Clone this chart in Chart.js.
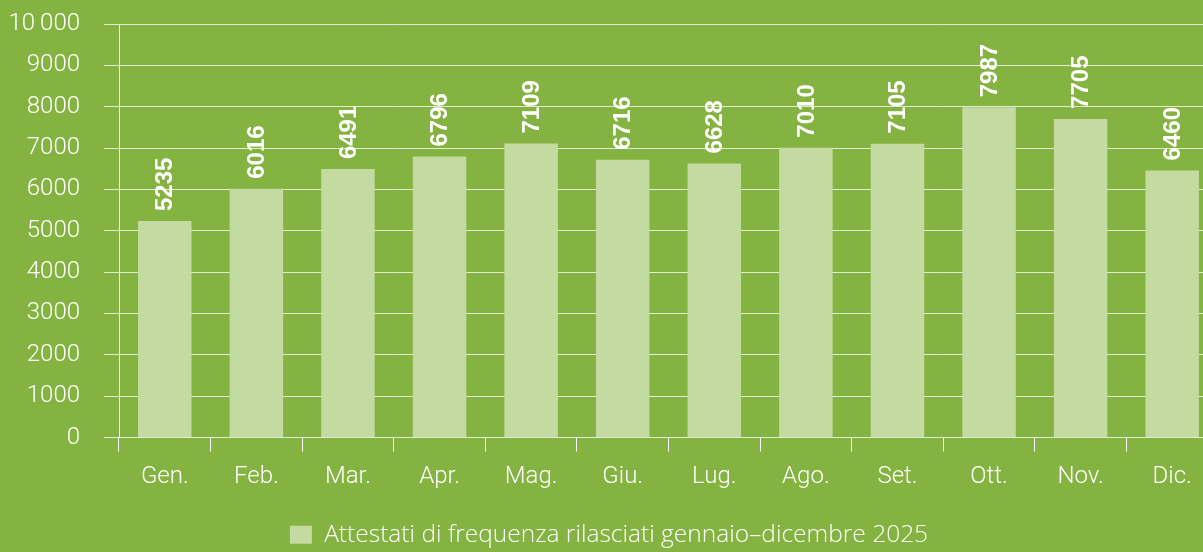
<!DOCTYPE html>
<html>
<head>
<meta charset="utf-8">
<script src="https://cdn.jsdelivr.net/npm/chart.js@4.4.1/dist/chart.umd.min.js"></script>
<style>
  html, body { margin: 0; padding: 0; background: #85b341; overflow: hidden; }
  #wrap { width: 1220px; height: 552px; }
</style>
</head>
<body>
<div id="wrap"><canvas id="chart" width="1220" height="552"></canvas></div>
<script>
// dati del grafico
const months = ["Gen.", "Feb.", "Mar.", "Apr.", "Mag.", "Giu.", "Lug.", "Ago.", "Set.", "Ott.", "Nov.", "Dic."];
const attestati = [5235, 6016, 6491, 6796, 7109, 6716, 6628, 7010, 7105, 7987, 7705, 6460];
const yTicks = [0, 1000, 2000, 3000, 4000, 5000, 6000, 7000, 8000, 9000, 10000];
const seriesLabel = "Attestati di frequenza rilasciati gennaio\u2013dicembre 2025";

const barColor = "#c3daa0";
const lineColor = "rgba(255, 255, 255, 0.75)";
const lightFont = "Roboto";

// etichette verticali sopra le barre
const valueLabels = {
  id: "valueLabels",
  afterDatasetsDraw(chart) {
    const ctx = chart.ctx;
    const meta = chart.getDatasetMeta(0);
    ctx.save();
    ctx.fillStyle = "#ffffff";
    ctx.font = "bold 24px 'Liberation Sans', Arial, sans-serif";
    ctx.textAlign = "left";
    ctx.textBaseline = "middle";
    meta.data.forEach(function (bar, i) {
      ctx.save();
      ctx.translate(bar.x + 1, bar.y - 10);
      ctx.rotate(-Math.PI / 2);
      ctx.fillText(String(attestati[i]), 0, 0);
      ctx.restore();
    });
    ctx.restore();
  }
};

new Chart(document.getElementById("chart"), {
  type: "bar",
  data: {
    labels: months,
    datasets: [{
      label: seriesLabel,
      data: attestati,
      backgroundColor: barColor,
      borderWidth: 0,
      categoryPercentage: 1,
      barPercentage: 0.584
    }]
  },
  options: {
    responsive: false,
    animation: false,
    layout: { padding: { top: 24, right: 2, left: 0, bottom: -5 } },
    scales: {
      x: {
        grid: {
          offset: true,
          drawOnChartArea: false,
          color: "#ffffff",
          tickLength: 14
        },
        border: { display: false },
        ticks: {
          color: "#ffffff",
          padding: 11,
          font: { family: lightFont, size: 24, weight: "300" }
        },
        afterFit(scale) {
          scale.height = 81;
          scale.paddingLeft = 0;
          scale.paddingRight = 0;
        }
      },
      y: {
        min: 0,
        max: 10000,
        afterBuildTicks(scale) {
          scale.ticks = yTicks.map(function (v) { return { value: v }; });
        },
        grid: {
          color: lineColor,
          tickLength: 15
        },
        border: { display: true, color: "#ffffff", width: 1 },
        ticks: {
          color: "#ffffff",
          padding: 24,
          font: { family: lightFont, size: 24, weight: "300" },
          callback: function (v) { return v === 10000 ? "10\u2009000" : String(v); }
        },
        afterFit(scale) {
          scale.width = 119;
          scale.paddingTop = 0;
          scale.paddingBottom = 0;
        }
      }
    },
    plugins: {
      legend: {
        position: "bottom",
        labels: {
          color: "#ffffff",
          boxWidth: 22,
          boxHeight: 18,
          padding: 4,
          font: { family: "'Open Sans'", size: 24.5, weight: "300" }
        }
      },
      tooltip: { enabled: false }
    }
  },
  plugins: [valueLabels]
});
</script>
</body>
</html>
